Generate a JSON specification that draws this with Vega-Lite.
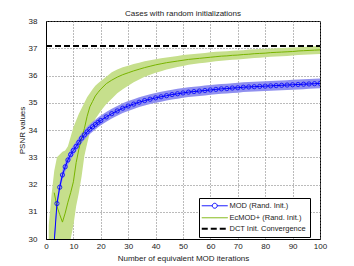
{
"$schema": "https://vega.github.io/schema/vega-lite/v6.json",
"width": 274, "height": 218,
"autosize": {"type": "none"},
"padding": {"left": 46, "top": 21, "right": 34, "bottom": 27},
"background": "white",
"title": {"text": "Cases with random initializations", "font": "Liberation Sans", "fontSize": 8, "fontWeight": "normal", "color": "#222222", "offset": -1},
"config": {
  "view": {"stroke": "black", "strokeWidth": 1},
  "axis": {"labelFont": "Liberation Sans", "labelFontSize": 8, "labelColor": "#222222", "titleFont": "Liberation Sans", "titleFontSize": 8, "titleFontWeight": "normal", "titleColor": "#222222", "gridColor": "#777777", "gridDash": [1, 2], "gridOpacity": 1, "domainColor": "black", "ticks": false, "labelFlush": false}
},
"datasets": {
"mod": [
{"x":1,"y":28.0,"lo":27.82,"hi":28.18},{"x":2,"y":29.0,"lo":28.82,"hi":29.18},{"x":3,"y":29.9,"lo":29.72,"hi":30.08},{"x":4,"y":31.3,"lo":31.12,"hi":31.48},{"x":5,"y":31.9,"lo":31.72,"hi":32.08},{"x":6,"y":32.35,"lo":32.17,"hi":32.53},{"x":7,"y":32.65,"lo":32.47,"hi":32.83},{"x":8,"y":32.9,"lo":32.72,"hi":33.08},{"x":9,"y":33.1,"lo":32.92,"hi":33.28},{"x":10,"y":33.25,"lo":33.07,"hi":33.43},
{"x":11,"y":33.4,"lo":33.22,"hi":33.58},{"x":12,"y":33.55,"lo":33.37,"hi":33.73},{"x":13,"y":33.7,"lo":33.52,"hi":33.88},{"x":14,"y":33.82,"lo":33.64,"hi":34.0},{"x":15,"y":33.93,"lo":33.75,"hi":34.11},{"x":16,"y":34.03,"lo":33.85,"hi":34.21},{"x":17,"y":34.12,"lo":33.94,"hi":34.3},{"x":18,"y":34.2,"lo":34.02,"hi":34.38},{"x":19,"y":34.28,"lo":34.1,"hi":34.46},{"x":20,"y":34.35,"lo":34.17,"hi":34.53},
{"x":22,"y":34.48,"lo":34.3,"hi":34.66},{"x":24,"y":34.6,"lo":34.42,"hi":34.78},{"x":26,"y":34.7,"lo":34.52,"hi":34.88},{"x":28,"y":34.8,"lo":34.62,"hi":34.98},{"x":30,"y":34.88,"lo":34.7,"hi":35.06},{"x":32,"y":34.95,"lo":34.77,"hi":35.13},{"x":34,"y":35.02,"lo":34.84,"hi":35.2},{"x":36,"y":35.08,"lo":34.9,"hi":35.26},{"x":38,"y":35.13,"lo":34.95,"hi":35.31},{"x":40,"y":35.18,"lo":35.0,"hi":35.36},
{"x":42,"y":35.22,"lo":35.04,"hi":35.4},{"x":44,"y":35.26,"lo":35.08,"hi":35.44},{"x":46,"y":35.3,"lo":35.12,"hi":35.48},{"x":48,"y":35.33,"lo":35.15,"hi":35.51},{"x":50,"y":35.36,"lo":35.18,"hi":35.54},{"x":52,"y":35.39,"lo":35.21,"hi":35.57},{"x":54,"y":35.41,"lo":35.23,"hi":35.59},{"x":56,"y":35.43,"lo":35.25,"hi":35.61},{"x":58,"y":35.45,"lo":35.27,"hi":35.63},{"x":60,"y":35.47,"lo":35.29,"hi":35.65},
{"x":62,"y":35.49,"lo":35.31,"hi":35.67},{"x":64,"y":35.51,"lo":35.33,"hi":35.69},{"x":66,"y":35.52,"lo":35.34,"hi":35.7},{"x":68,"y":35.54,"lo":35.36,"hi":35.72},{"x":70,"y":35.55,"lo":35.37,"hi":35.73},{"x":72,"y":35.57,"lo":35.39,"hi":35.75},{"x":74,"y":35.58,"lo":35.4,"hi":35.76},{"x":76,"y":35.59,"lo":35.41,"hi":35.77},{"x":78,"y":35.6,"lo":35.42,"hi":35.78},{"x":80,"y":35.61,"lo":35.43,"hi":35.79},
{"x":82,"y":35.62,"lo":35.44,"hi":35.8},{"x":84,"y":35.63,"lo":35.45,"hi":35.81},{"x":86,"y":35.64,"lo":35.46,"hi":35.82},{"x":88,"y":35.65,"lo":35.47,"hi":35.83},{"x":90,"y":35.66,"lo":35.48,"hi":35.84},{"x":92,"y":35.67,"lo":35.49,"hi":35.85},{"x":94,"y":35.68,"lo":35.5,"hi":35.86},{"x":96,"y":35.69,"lo":35.51,"hi":35.87},{"x":98,"y":35.7,"lo":35.52,"hi":35.88},{"x":100,"y":35.71,"lo":35.53,"hi":35.89}
],
"ec": [
{"x":1,"y":null,"lo":28.0,"hi":30.5},{"x":2,"y":null,"lo":28.3,"hi":31.6},{"x":3,"y":31.7,"lo":28.6,"hi":32.5},{"x":4,"y":31.2,"lo":28.9,"hi":33.0},{"x":5,"y":30.9,"lo":29.2,"hi":33.1},{"x":6,"y":30.62,"lo":29.35,"hi":33.2},{"x":7,"y":30.95,"lo":29.5,"hi":33.25},{"x":8,"y":31.35,"lo":29.75,"hi":33.4},{"x":9,"y":31.7,"lo":30.0,"hi":33.75},{"x":10,"y":32.1,"lo":30.5,"hi":34.1},
{"x":11,"y":32.8,"lo":31.2,"hi":34.35},{"x":12,"y":33.3,"lo":31.7,"hi":34.6},{"x":13,"y":33.7,"lo":32.3,"hi":34.8},{"x":14,"y":34.05,"lo":33.05,"hi":35.0},{"x":15,"y":34.5,"lo":33.5,"hi":35.2},{"x":16,"y":34.85,"lo":33.9,"hi":35.35},{"x":17,"y":35.05,"lo":34.2,"hi":35.5},{"x":18,"y":35.25,"lo":34.4,"hi":35.62},{"x":19,"y":35.38,"lo":34.55,"hi":35.72},{"x":20,"y":35.5,"lo":34.7,"hi":35.8},
{"x":22,"y":35.7,"lo":34.95,"hi":35.95},{"x":24,"y":35.83,"lo":35.15,"hi":36.12},{"x":26,"y":35.94,"lo":35.35,"hi":36.22},{"x":28,"y":36.03,"lo":35.5,"hi":36.3},{"x":30,"y":36.1,"lo":35.62,"hi":36.36},{"x":32,"y":36.17,"lo":35.75,"hi":36.42},{"x":34,"y":36.23,"lo":35.85,"hi":36.47},{"x":36,"y":36.29,"lo":35.95,"hi":36.52},{"x":38,"y":36.34,"lo":36.03,"hi":36.56},{"x":40,"y":36.39,"lo":36.1,"hi":36.6},
{"x":42,"y":36.43,"lo":36.16,"hi":36.63},{"x":44,"y":36.47,"lo":36.22,"hi":36.66},{"x":46,"y":36.5,"lo":36.27,"hi":36.69},{"x":48,"y":36.53,"lo":36.31,"hi":36.72},{"x":50,"y":36.56,"lo":36.35,"hi":36.75},{"x":52,"y":36.59,"lo":36.39,"hi":36.77},{"x":54,"y":36.61,"lo":36.42,"hi":36.79},{"x":56,"y":36.63,"lo":36.45,"hi":36.81},{"x":58,"y":36.65,"lo":36.47,"hi":36.83},{"x":60,"y":36.67,"lo":36.5,"hi":36.85},
{"x":62,"y":36.69,"lo":36.52,"hi":36.87},{"x":64,"y":36.71,"lo":36.54,"hi":36.88},{"x":66,"y":36.72,"lo":36.56,"hi":36.89},{"x":68,"y":36.74,"lo":36.58,"hi":36.91},{"x":70,"y":36.75,"lo":36.59,"hi":36.92},{"x":72,"y":36.77,"lo":36.61,"hi":36.93},{"x":74,"y":36.78,"lo":36.62,"hi":36.95},{"x":76,"y":36.8,"lo":36.64,"hi":36.96},{"x":78,"y":36.81,"lo":36.65,"hi":36.97},{"x":80,"y":36.82,"lo":36.67,"hi":36.98},
{"x":82,"y":36.84,"lo":36.69,"hi":36.99},{"x":84,"y":36.85,"lo":36.7,"hi":37.0},{"x":86,"y":36.86,"lo":36.71,"hi":37.01},{"x":88,"y":36.87,"lo":36.72,"hi":37.02},{"x":90,"y":36.88,"lo":36.73,"hi":37.03},{"x":92,"y":36.9,"lo":36.75,"hi":37.04},{"x":94,"y":36.91,"lo":36.76,"hi":37.05},{"x":96,"y":36.92,"lo":36.77,"hi":37.06},{"x":98,"y":36.93,"lo":36.78,"hi":37.07},{"x":100,"y":36.94,"lo":36.79,"hi":37.08}
],
"dct": [{"x":0,"y":37.08},{"x":100,"y":37.08}]
},
"encoding": {
  "x": {"field": "x", "type": "quantitative", "scale": {"domain": [0, 100], "nice": false},
        "axis": {"title": "Number of equivalent MOD iterations", "values": [0,10,20,30,40,50,60,70,80,90,100], "labelPadding": 3, "titlePadding": 4}},
  "y": {"field": "y", "type": "quantitative", "scale": {"domain": [30, 38], "nice": false, "zero": false},
        "axis": {"title": "PSNR values", "values": [30,31,32,33,34,35,36,37,38], "labelPadding": 9, "titlePadding": 2}}
},
"layer": [
  {"data": {"name": "ec"}, "mark": {"type": "area", "clip": true, "color": "#c6df8c", "opacity": 1},
   "encoding": {"y": {"field": "lo", "type": "quantitative"}, "y2": {"field": "hi"}}},
  {"data": {"name": "mod"}, "mark": {"type": "area", "clip": true, "color": "#9090ef", "opacity": 1},
   "encoding": {"y": {"field": "lo", "type": "quantitative"}, "y2": {"field": "hi"}}},
  {"data": {"name": "ec"}, "mark": {"type": "line", "clip": true, "color": "#78b400", "strokeWidth": 1}, "encoding": {}},
  {"data": {"name": "mod"}, "mark": {"type": "line", "clip": true, "color": "#0000ff", "strokeWidth": 1}, "encoding": {}},
  {"data": {"name": "mod"}, "mark": {"type": "point", "clip": true, "shape": "circle", "filled": false, "color": "#0000ff", "size": 18, "strokeWidth": 0.8, "opacity": 1}, "encoding": {}},
  {"data": {"name": "dct"}, "mark": {"type": "line", "clip": true, "color": "black", "strokeWidth": 2, "strokeDash": [6, 3]}, "encoding": {}},
  {"data": {"values": [
      {"s": "MOD (Rand. Init.)", "x": 0, "y": 0},
      {"s": "EcMOD+ (Rand. Init.)", "x": 0, "y": 0},
      {"s": "DCT Init. Convergence", "x": 0, "y": 0}]},
   "mark": {"type": "line", "opacity": 0},
   "encoding": {
     "color": {"field": "s", "type": "nominal",
       "scale": {"domain": ["MOD (Rand. Init.)", "EcMOD+ (Rand. Init.)", "DCT Init. Convergence"], "range": ["#0000ff", "#78b400", "#000000"]},
       "legend": {"title": null, "orient": "none", "legendX": 153, "legendY": 177, "symbolType": "stroke", "symbolSize": 676, "symbolOpacity": 1, "symbolOffset": 8,
         "strokeColor": "black", "fillColor": "white", "padding": 4, "rowPadding": 2,
         "labelFont": "Liberation Sans", "labelFontSize": 7.5, "labelColor": "#222222", "labelOffset": 11,
         "encode": {"symbols": {"update": {
           "shape": {"signal": "datum.value === 'MOD (Rand. Init.)' ? 'M-1,0L-0.19,0M0.19,0L1,0M0.19,0A0.19,0.19 0 1 1 -0.19,0A0.19,0.19 0 1 1 0.19,0' : 'stroke'"},
           "strokeWidth": {"signal": "datum.value === 'DCT Init. Convergence' ? 2 : 1"},
           "strokeDash": {"signal": "datum.value === 'DCT Init. Convergence' ? [6, 3] : [1, 0]"},
           "fill": {"value": "transparent"},
           "opacity": {"value": 1}}}}}}
   }}
]
}
